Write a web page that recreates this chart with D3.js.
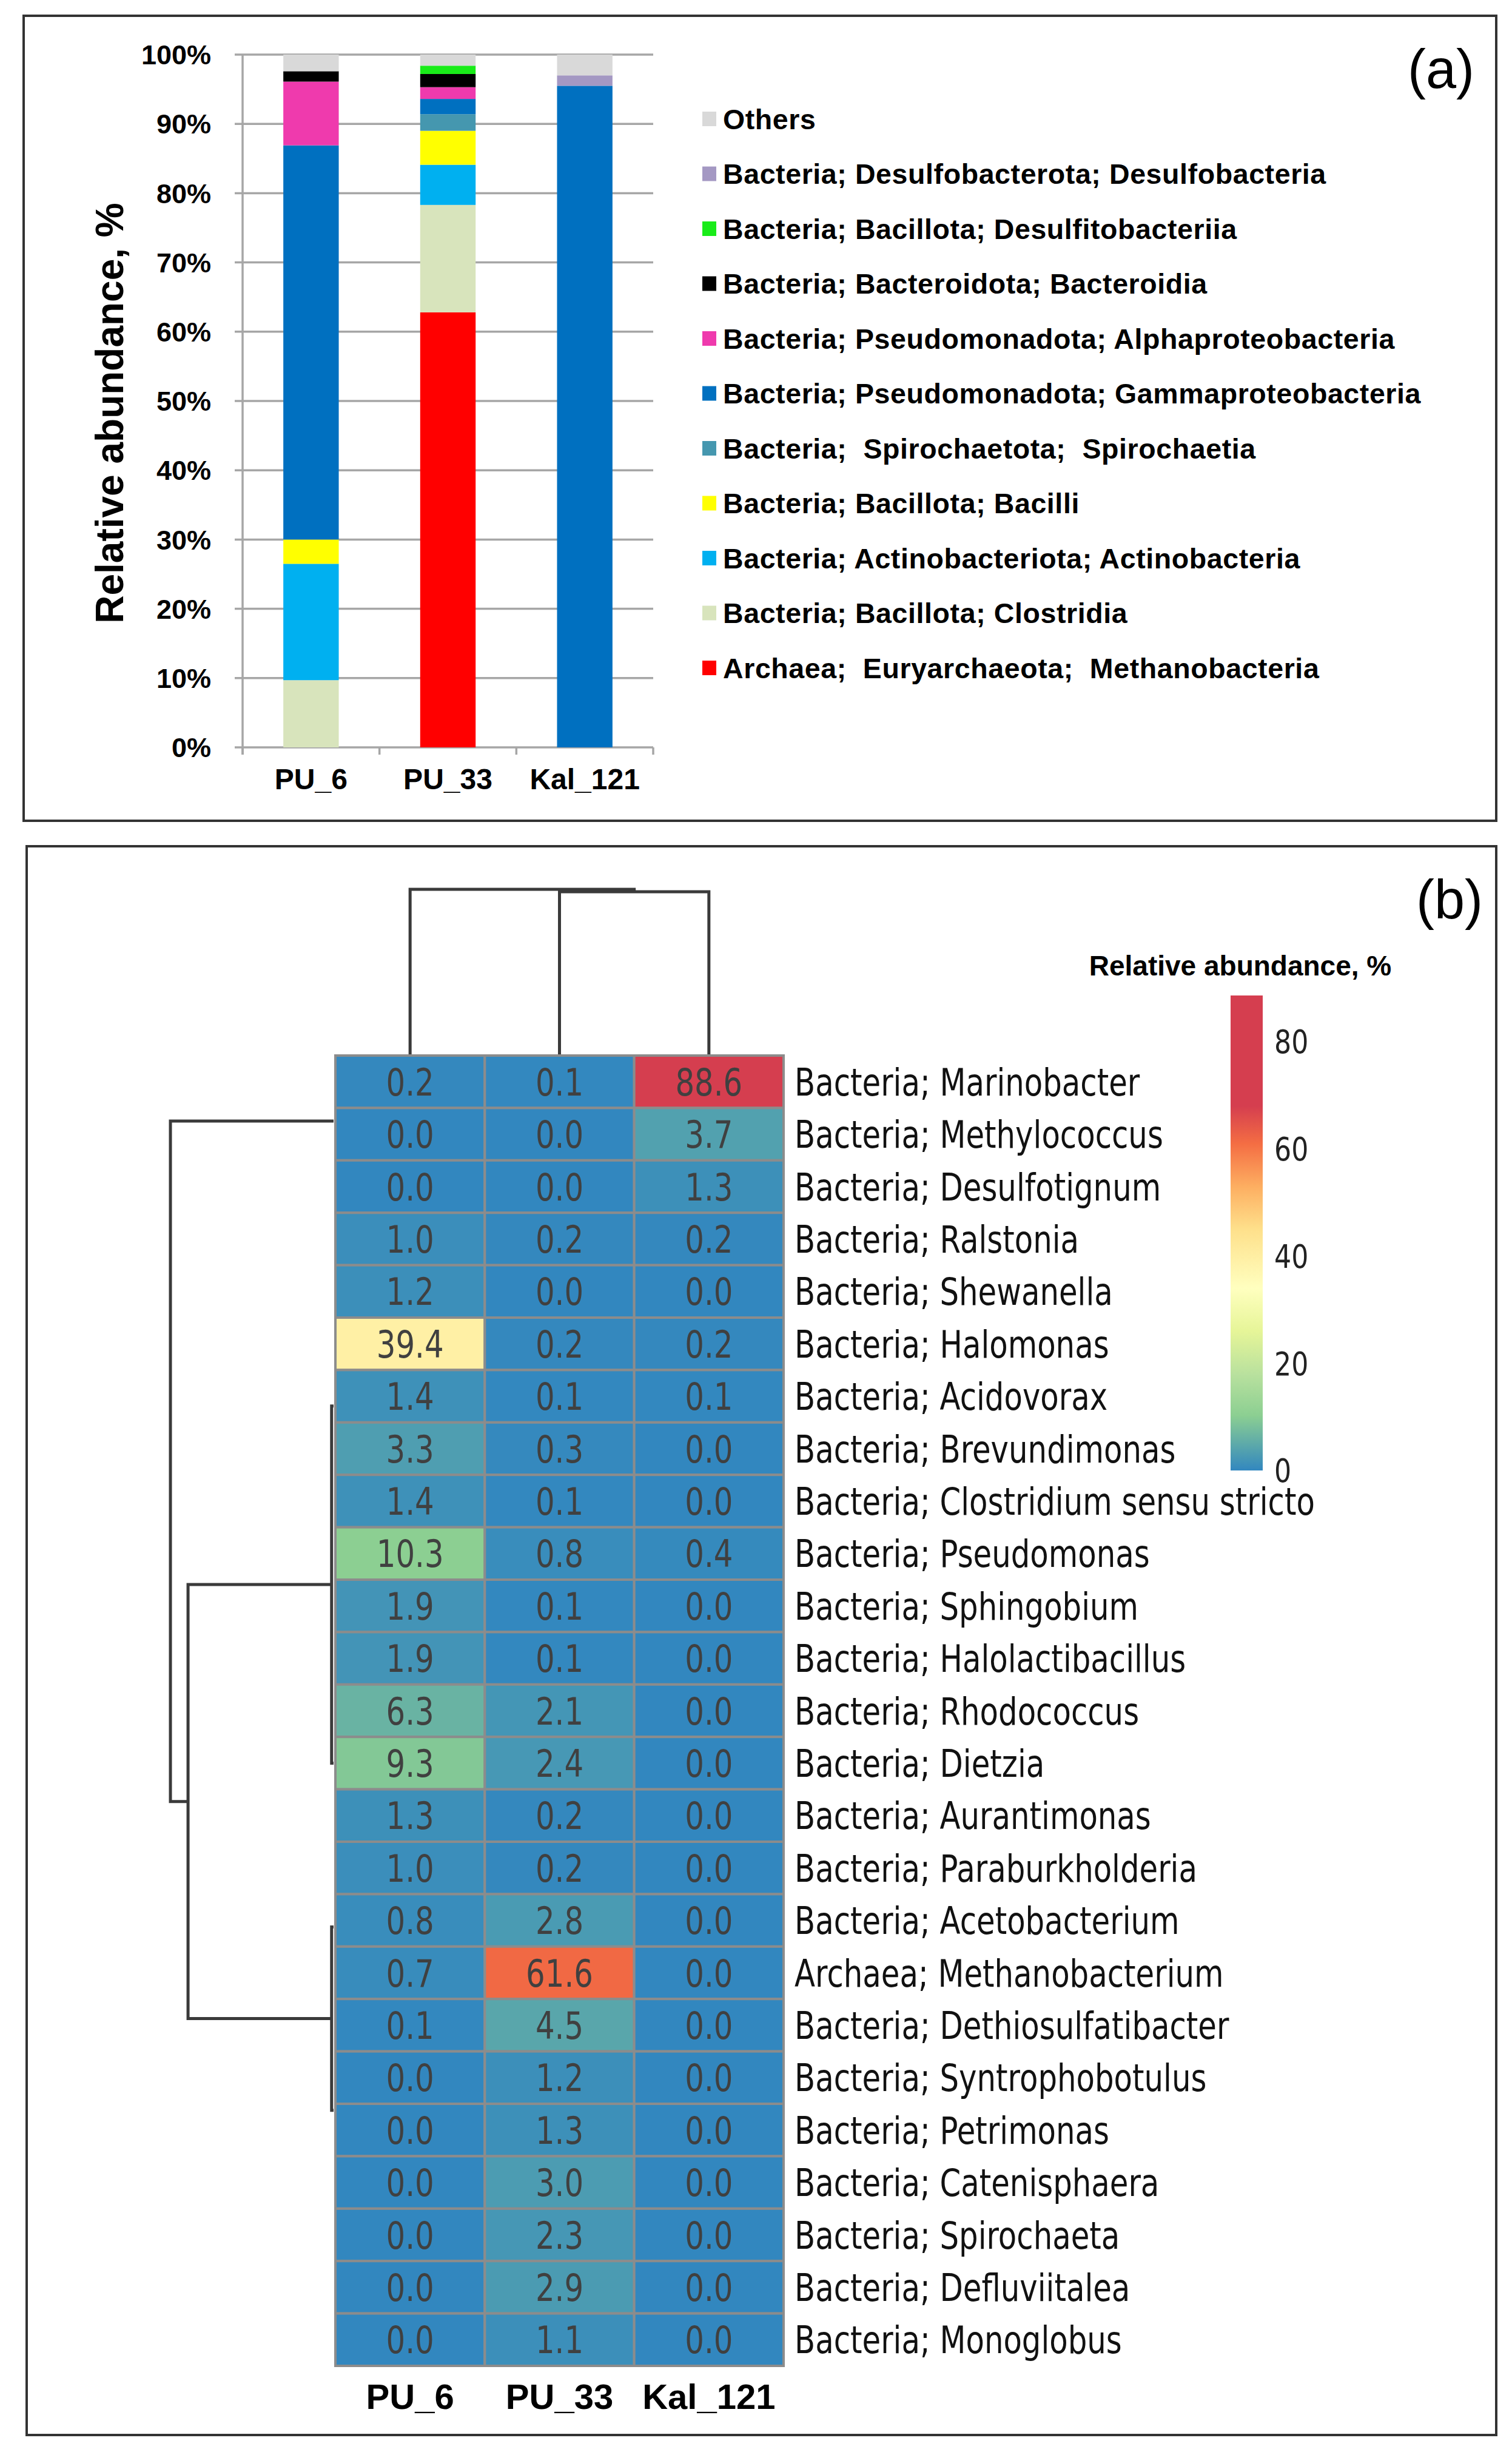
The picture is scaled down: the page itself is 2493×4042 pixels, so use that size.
<!DOCTYPE html>
<html>
<head>
<meta charset="utf-8">
<script src="https://cdn.jsdelivr.net/npm/d3@7"></script>
<style>
  body { margin: 0; background: #fff; }
  text { white-space: pre; }
</style>
</head>
<body>
<div id="chart"></div>
<script>
var width = 2493;
var height = 4042;

// ---------- panel (a): stacked bars ----------
var samples = ["PU_6", "PU_33", "Kal_121"];

// taxa in stacking order (bottom to top); legend shows them reversed
var taxa = [
  "Archaea;  Euryarchaeota;  Methanobacteria",
  "Bacteria; Bacillota; Clostridia",
  "Bacteria; Actinobacteriota; Actinobacteria",
  "Bacteria; Bacillota; Bacilli",
  "Bacteria;  Spirochaetota;  Spirochaetia",
  "Bacteria; Pseudomonadota; Gammaproteobacteria",
  "Bacteria; Pseudomonadota; Alphaproteobacteria",
  "Bacteria; Bacteroidota; Bacteroidia",
  "Bacteria; Bacillota; Desulfitobacteriia",
  "Bacteria; Desulfobacterota; Desulfobacteria",
  "Others"
];
var taxaColors = ["#ff0000", "#d8e4bc", "#00b0f0", "#ffff00", "#4597af", "#0070c0",
                  "#ef3aad", "#000000", "#19ec19", "#a498c3", "#d9d9d9"];

// relative abundance, % (PU_6, PU_33, Kal_121)
var methanobacteria = [0, 62.8, 0];
var clostridia      = [9.7, 15.5, 0];
var actinobacteria  = [16.8, 5.8, 0];
var bacilli         = [3.5, 4.9, 0];
var spirochaetia    = [0, 2.4, 0];
var gammaproteo     = [56.9, 2.2, 95.5];
var alphaproteo     = [9.2, 1.7, 0];
var bacteroidia     = [1.5, 1.9, 0];
var desulfitobact   = [0, 1.2, 0];
var desulfobact     = [0, 0, 1.5];
var others          = [2.4, 1.6, 3.0];
var taxaValues = [methanobacteria, clostridia, actinobacteria, bacilli, spirochaetia,
                  gammaproteo, alphaproteo, bacteroidia, desulfitobact, desulfobact, others];

var pctTicks = [0, 10, 20, 30, 40, 50, 60, 70, 80, 90, 100];

// ---------- panel (b): clustered heatmap ----------
var genera = [
  "Bacteria; Marinobacter", "Bacteria; Methylococcus", "Bacteria; Desulfotignum",
  "Bacteria; Ralstonia", "Bacteria; Shewanella", "Bacteria; Halomonas",
  "Bacteria; Acidovorax", "Bacteria; Brevundimonas", "Bacteria; Clostridium sensu stricto",
  "Bacteria; Pseudomonas", "Bacteria; Sphingobium", "Bacteria; Halolactibacillus",
  "Bacteria; Rhodococcus", "Bacteria; Dietzia", "Bacteria; Aurantimonas",
  "Bacteria; Paraburkholderia", "Bacteria; Acetobacterium", "Archaea; Methanobacterium",
  "Bacteria; Dethiosulfatibacter", "Bacteria; Syntrophobotulus", "Bacteria; Petrimonas",
  "Bacteria; Catenisphaera", "Bacteria; Spirochaeta", "Bacteria; Defluviitalea",
  "Bacteria; Monoglobus"
];
var abundPU6    = [0.2, 0.0, 0.0, 1.0, 1.2, 39.4, 1.4, 3.3, 1.4, 10.3, 1.9, 1.9, 6.3,
                   9.3, 1.3, 1.0, 0.8, 0.7, 0.1, 0.0, 0.0, 0.0, 0.0, 0.0, 0.0];
var abundPU33   = [0.1, 0.0, 0.0, 0.2, 0.0, 0.2, 0.1, 0.3, 0.1, 0.8, 0.1, 0.1, 2.1,
                   2.4, 0.2, 0.2, 2.8, 61.6, 4.5, 1.2, 1.3, 3.0, 2.3, 2.9, 1.1];
var abundKal121 = [88.6, 3.7, 1.3, 0.2, 0.0, 0.2, 0.1, 0.0, 0.0, 0.4, 0.0, 0.0, 0.0,
                   0.0, 0.0, 0.0, 0.0, 0.0, 0.0, 0.0, 0.0, 0.0, 0.0, 0.0, 0.0];

// linkage rows [childA, childB, height]; ids >= n refer to earlier rows
var rowLinkage = [
  [1, 2, 0], [0, 25, 0],
  [4, 5, 0], [3, 27, 0], [7, 8, 0], [6, 29, 0], [9, 10, 0], [11, 12, 0], [31, 32, 0],
  [30, 33, 0], [28, 34, 0], [35, 13, 0.012],
  [14, 15, 0], [37, 16, 0], [38, 17, 0],
  [20, 21, 0], [19, 40, 0], [23, 24, 0], [22, 42, 0], [41, 43, 0], [18, 44, 0],
  [39, 45, 0.012],
  [36, 46, 0.892], [26, 47, 1.0]
];
var colLinkage = [[1, 2, 0.985], [0, 3, 1.0]];

var colorStops  = [0, 10.3, 18, 26, 34, 45, 53, 61, 68];
var colorRange  = ["#3287bf", "#8ccf92", "#b9e19e", "#e6f598", "#ffffbf",
                   "#fee08b", "#fdae61", "#f46d43", "#d53e4f"];
var colorMax = 88.6;
var barTicks = [0, 20, 40, 60, 80];

var svg = d3.select("#chart")
  .append("svg")
  .attr("width", width)
  .attr("height", height)
  .style("background", "#fff");

var fontA = "'Liberation Sans', Arial, sans-serif";
var fontB = "'DejaVu Sans', sans-serif";

// ================= panel (a) =================
svg.append("rect")
  .attr("x", 39).attr("y", 26)
  .attr("width", 2428).attr("height", 1327)
  .attr("fill", "none").attr("stroke", "#333").attr("stroke-width", 4);

var x = d3.scaleBand().domain(samples).range([400, 1077]).paddingInner(0).paddingOuter(0);
var y = d3.scaleLinear().domain([0, 100]).range([1232, 90]);

var gA = svg.append("g");

// gridlines
gA.selectAll(".grid")
  .data(pctTicks)
  .enter().append("line")
  .attr("x1", 387).attr("x2", 1077)
  .attr("y1", function(d) { return y(d); })
  .attr("y2", function(d) { return y(d); })
  .attr("stroke", "#a6a6a6").attr("stroke-width", 3.5);

// y axis line + category ticks
gA.append("line").attr("x1", 400).attr("x2", 400).attr("y1", y(100)).attr("y2", y(0) + 12)
  .attr("stroke", "#a6a6a6").attr("stroke-width", 3.5);
gA.selectAll(".xtick")
  .data(samples.concat(["end"]))
  .enter().append("line")
  .attr("x1", function(d, i) { return 400 + i * x.bandwidth(); })
  .attr("x2", function(d, i) { return 400 + i * x.bandwidth(); })
  .attr("y1", y(0)).attr("y2", y(0) + 12)
  .attr("stroke", "#a6a6a6").attr("stroke-width", 3.5);

// stacked bars
var table = samples.map(function(s, i) {
  var row = { sample: s };
  taxa.forEach(function(t, k) { row[t] = taxaValues[k][i]; });
  return row;
});
var series = d3.stack().keys(taxa)(table);
var barW = x.bandwidth() * 0.405;

gA.selectAll(".series")
  .data(series)
  .enter().append("g")
  .attr("fill", function(d, k) { return taxaColors[k]; })
  .selectAll("rect")
  .data(function(d) { return d; })
  .enter().append("rect")
  .attr("x", function(d) { return x(d.data.sample) + (x.bandwidth() - barW) / 2; })
  .attr("width", barW)
  .attr("y", function(d) { return y(d[1]); })
  .attr("height", function(d) { return Math.max(0, y(d[0]) - y(d[1])); });

// tick labels
gA.selectAll(".ylab")
  .data(pctTicks)
  .enter().append("text")
  .attr("x", 348)
  .attr("y", function(d) { return y(d); })
  .attr("dy", "0.36em")
  .attr("text-anchor", "end")
  .style("font-family", fontA).style("font-weight", "bold").style("font-size", "45px")
  .text(function(d) { return d + "%"; });

gA.selectAll(".xlab")
  .data(samples)
  .enter().append("text")
  .attr("x", function(d) { return x(d) + x.bandwidth() / 2; })
  .attr("y", 1301)
  .attr("text-anchor", "middle")
  .style("font-family", fontA).style("font-weight", "bold").style("font-size", "48px")
  .text(function(d) { return d; });

gA.append("text")
  .attr("transform", "translate(203,681) rotate(-90)")
  .attr("text-anchor", "middle")
  .style("font-family", fontA).style("font-weight", "bold").style("font-size", "64px")
  .text("Relative abundance, %");

// legend
var legendTaxa = taxa.slice().reverse();
var legendColors = taxaColors.slice().reverse();
var legend = gA.selectAll(".legend")
  .data(legendTaxa)
  .enter().append("g")
  .attr("transform", function(d, i) { return "translate(1158," + (196 + i * 90.5) + ")"; });
legend.append("rect")
  .attr("x", 0).attr("y", -12).attr("width", 23).attr("height", 24)
  .attr("fill", function(d, i) { return legendColors[i]; });
legend.append("text")
  .attr("x", 34).attr("dy", "0.36em")
  .style("font-family", fontA).style("font-weight", "bold").style("font-size", "46.5px")
  .style("letter-spacing", "0.6px")
  .text(function(d) { return d; });

svg.append("text")
  .attr("x", 2431).attr("y", 145)
  .attr("text-anchor", "end")
  .style("font-family", fontA).style("font-size", "90px")
  .text("(a)");

// ================= panel (b) =================
svg.append("rect")
  .attr("x", 44).attr("y", 1395)
  .attr("width", 2423).attr("height", 2619)
  .attr("fill", "none").attr("stroke", "#333").attr("stroke-width", 4);

svg.append("text")
  .attr("x", 2445).attr("y", 1514)
  .attr("text-anchor", "end")
  .style("font-family", fontA).style("font-size", "90px")
  .text("(b)");

var squeeze = 0.79;
var colX = d3.scaleBand().domain(d3.range(samples.length)).range([553, 1292]);
var rowY = d3.scaleBand().domain(d3.range(genera.length)).range([1740, 3900]);
var color = d3.scaleLinear().domain(colorStops).range(colorRange).clamp(true);

// position along each axis for fractional (cluster) indices
var rowPos = d3.scaleLinear().domain([0, genera.length - 1])
  .range([rowY(0) + rowY.bandwidth() / 2, rowY(genera.length - 1) + rowY.bandwidth() / 2]);
var colPos = d3.scaleLinear().domain([0, samples.length - 1])
  .range([colX(0) + colX.bandwidth() / 2, colX(samples.length - 1) + colX.bandwidth() / 2]);
var rowH = d3.scaleLinear().domain([0, 1]).range([550, 281]);
var colH = d3.scaleLinear().domain([0, 1]).range([1738, 1466]);

function linkagePaths(linkage, n, posScale, hScale, vertical) {
  var pos = d3.range(n), hgt = d3.range(n).map(function() { return 0; });
  var paths = [];
  linkage.forEach(function(m, k) {
    var a = m[0], b = m[1], h = m[2];
    pos[n + k] = (pos[a] + pos[b]) / 2;
    hgt[n + k] = h;
    if (h <= 0) return; // zero-height merges sit under the heatmap edge
    var p = d3.path();
    if (vertical) {
      p.moveTo(posScale(pos[a]), hScale(hgt[a]));
      p.lineTo(posScale(pos[a]), hScale(h));
      p.lineTo(posScale(pos[b]), hScale(h));
      p.lineTo(posScale(pos[b]), hScale(hgt[b]));
    } else {
      p.moveTo(hScale(hgt[a]), posScale(pos[a]));
      p.lineTo(hScale(h), posScale(pos[a]));
      p.lineTo(hScale(h), posScale(pos[b]));
      p.lineTo(hScale(hgt[b]), posScale(pos[b]));
    }
    paths.push(p.toString());
  });
  return paths;
}

var gB = svg.append("g");

gB.selectAll(".rowdendro")
  .data(linkagePaths(rowLinkage, genera.length, rowPos, rowH, false))
  .enter().append("path")
  .attr("d", function(d) { return d; })
  .attr("fill", "none").attr("stroke", "#3a3a3a").attr("stroke-width", 5);

gB.selectAll(".coldendro")
  .data(linkagePaths(colLinkage, samples.length, colPos, colH, true))
  .enter().append("path")
  .attr("d", function(d) { return d; })
  .attr("fill", "none").attr("stroke", "#3a3a3a").attr("stroke-width", 5);

// heatmap cells
var cells = [];
var cols = [abundPU6, abundPU33, abundKal121];
genera.forEach(function(g, r) {
  cols.forEach(function(vals, c) { cells.push({ r: r, c: c, v: vals[r] }); });
});

gB.selectAll(".cell")
  .data(cells)
  .enter().append("rect")
  .attr("x", function(d) { return colX(d.c); })
  .attr("y", function(d) { return rowY(d.r); })
  .attr("width", colX.bandwidth())
  .attr("height", rowY.bandwidth())
  .attr("fill", function(d) { return color(d.v); })
  .attr("stroke", "#8c8c8c").attr("stroke-width", 4);

gB.selectAll(".cellText")
  .data(cells)
  .enter().append("text")
  .attr("transform", function(d) {
    return "translate(" + (colX(d.c) + colX.bandwidth() / 2) + "," + (rowY(d.r) + rowY.bandwidth() / 2) + ") scale(" + squeeze + ",1)";
  })
  .attr("dy", "0.36em")
  .attr("text-anchor", "middle")
  .attr("fill", "#404040")
  .style("font-family", fontB).style("font-size", "63px")
  .text(function(d) { return d.v.toFixed(1); });

gB.selectAll(".rowLabel")
  .data(genera)
  .enter().append("text")
  .attr("transform", function(d, i) {
    return "translate(1310," + (rowY(i) + rowY.bandwidth() / 2) + ") scale(" + squeeze + ",1)";
  })
  .attr("dy", "0.36em")
  .attr("fill", "#111")
  .style("font-family", fontB).style("font-size", "63px")
  .text(function(d) { return d; });

gB.selectAll(".colLabel")
  .data(samples)
  .enter().append("text")
  .attr("x", function(d, i) { return colX(i) + colX.bandwidth() / 2; })
  .attr("y", 3971)
  .attr("text-anchor", "middle")
  .style("font-family", fontA).style("font-weight", "bold").style("font-size", "58px")
  .text(function(d) { return d; });

// colour bar
var cbY = d3.scaleLinear().domain([0, colorMax]).range([2424, 1641]);
var grad = svg.append("defs").append("linearGradient")
  .attr("id", "cbar")
  .attr("x1", "0%").attr("y1", "100%").attr("x2", "0%").attr("y2", "0%");
colorStops.forEach(function(s, i) {
  grad.append("stop")
    .attr("offset", (s / colorMax * 100) + "%")
    .attr("stop-color", colorRange[i]);
});
grad.append("stop").attr("offset", "100%").attr("stop-color", colorRange[colorRange.length - 1]);

gB.append("rect")
  .attr("x", 2029).attr("width", 53)
  .attr("y", cbY(colorMax)).attr("height", cbY(0) - cbY(colorMax))
  .attr("fill", "url(#cbar)");

gB.selectAll(".cbTick")
  .data(barTicks)
  .enter().append("text")
  .attr("transform", function(d) { return "translate(2101," + cbY(d) + ") scale(0.82,1)"; })
  .attr("dy", "0.36em")
  .attr("fill", "#222")
  .style("font-family", fontB).style("font-size", "54px")
  .text(function(d) { return d; });

gB.append("text")
  .attr("x", 2045).attr("y", 1608)
  .attr("text-anchor", "middle")
  .style("font-family", fontA).style("font-weight", "bold").style("font-size", "46px")
  .text("Relative abundance, %");
</script>
</body>
</html>
